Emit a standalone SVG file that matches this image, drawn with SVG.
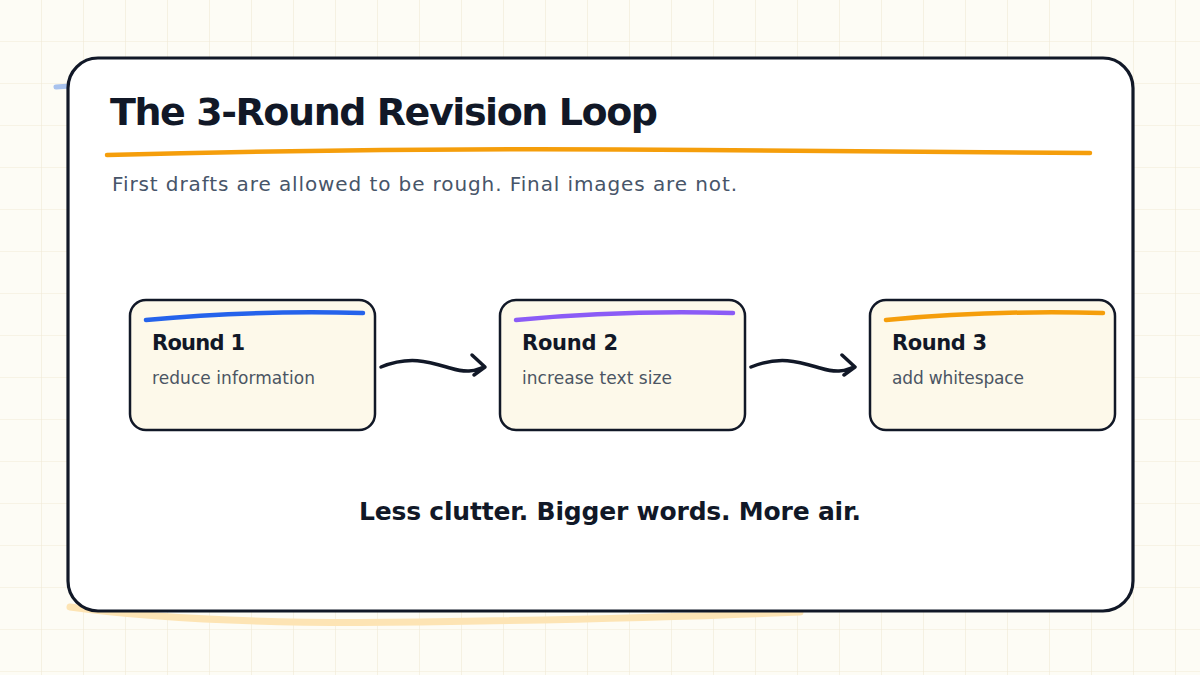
<svg xmlns="http://www.w3.org/2000/svg" width="1200" height="675" viewBox="0 0 1200 675">
<defs>
<pattern id="grid" width="42" height="42" patternUnits="userSpaceOnUse"><path d="M42 0V42M0 42H42" fill="none" stroke="#f1e9d6" stroke-width="1.2"/></pattern>
<style>
.t{font-family:"DejaVu Sans",sans-serif}
.node rect{fill:#fdf9ea;stroke:#111827;stroke-width:2.5}
.nt{font-size:21px;font-weight:bold;fill:#111827}
.ns{font-size:17px;fill:#4b5563}
.ul{fill:none;stroke-width:4.5;stroke-linecap:round}
.ar{fill:none;stroke:#111827;stroke-width:3.5;stroke-linecap:round;stroke-linejoin:round}
</style>
</defs>
<rect width="1200" height="675" fill="#fdfcf5"/>
<rect width="1200" height="675" fill="url(#grid)"/>
<path d="M56 87 L70 86" stroke="#93b4ec" stroke-width="5" stroke-linecap="round" opacity="0.8"/>
<path d="M70 607 Q200 625 420 622 T800 612" fill="none" stroke="#fde4b4" stroke-width="7" stroke-linecap="round"/>
<g id="card">
<rect x="68" y="58" width="1065" height="553" rx="30" fill="#ffffff" stroke="#111827" stroke-width="3.2"/>
<text x="110" y="125" class="t" font-size="38" font-weight="bold" fill="#111827" textLength="548">The 3-Round Revision Loop</text>
<path d="M107 155 Q400 147 700 150 T1090 153" class="ul" stroke="#f59e0b" stroke-width="3.5"/>
<text x="112" y="191" class="t" font-size="20" fill="#475569" textLength="625">First drafts are allowed to be rough. Final images are not.</text>
</g>
<g id="connectors">
<path class="ar" d="M381 367 C410 355 430 362 450 368 S475 370 484 367 M472 355 L485 367 L474 375"/>
<path class="ar" d="M751 367 C780 355 800 362 820 368 S845 370 854 367 M842 355 L855 367 L844 375"/>
</g>
<g id="round1" class="node">
<rect x="130" y="300" width="245" height="130" rx="16"/>
<path d="M146 320 Q250 310 363 313" class="ul" stroke="#2563eb"/>
<text x="152" y="350" class="t nt" textLength="93">Round 1</text>
<text x="152" y="384" class="t ns" textLength="163">reduce information</text>
</g>
<g id="round2" class="node">
<rect x="500" y="300" width="245" height="130" rx="16"/>
<path d="M516 320 Q620 310 733 313" class="ul" stroke="#8b5cf6"/>
<text x="522" y="350" class="t nt" textLength="96">Round 2</text>
<text x="522" y="384" class="t ns" textLength="150">increase text size</text>
</g>
<g id="round3" class="node">
<rect x="870" y="300" width="245" height="130" rx="16"/>
<path d="M886 320 Q990 310 1103 313" class="ul" stroke="#f59e0b"/>
<text x="892" y="350" class="t nt" textLength="95">Round 3</text>
<text x="892" y="384" class="t ns" textLength="132">add whitespace</text>
</g>
<text x="610" y="520" text-anchor="middle" class="t" font-size="25" font-weight="bold" fill="#111827" textLength="502">Less clutter. Bigger words. More air.</text>
</svg>
